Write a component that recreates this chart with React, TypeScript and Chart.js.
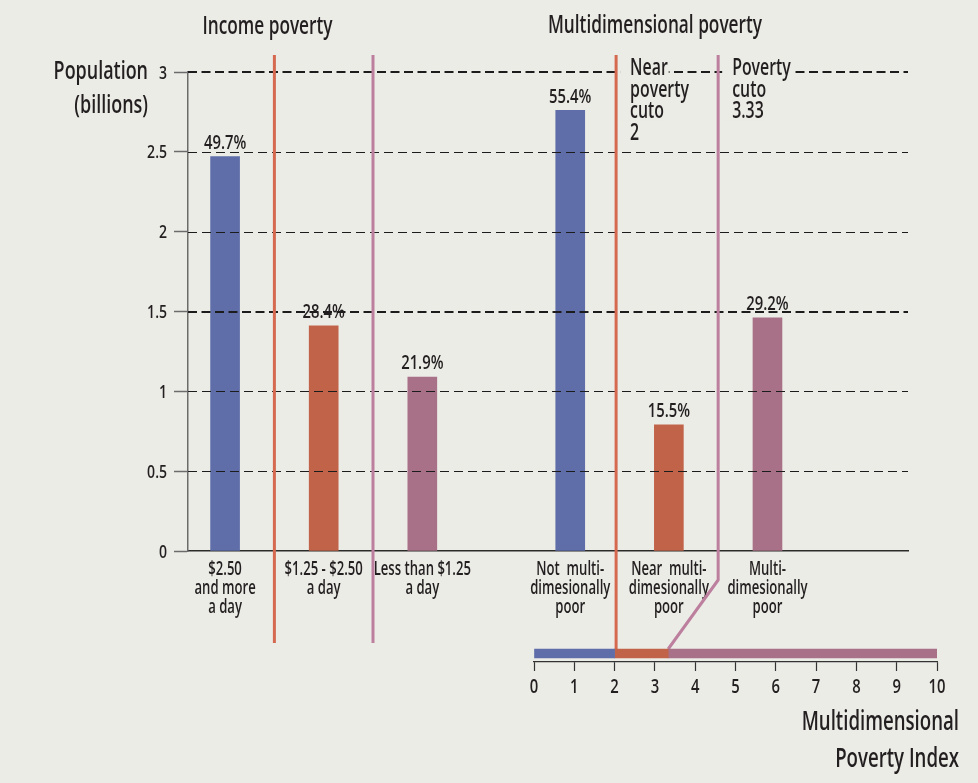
import React, { useEffect, useRef } from 'react';
import { Chart, registerables } from 'chart.js';

Chart.register(...registerables);

// Text is set in a humanist sans, compressed horizontally to a condensed width
const FONT = "'Open Sans', 'Noto Sans', sans-serif";
const WEIGHT = '600';
const SX = 0.69;
const SX_NUM = 0.78;
const INK = '#231f20';
const PAGE_BG = '#ecece7';
const BLUE = '#5f6ea9';
const ORANGE = '#c16349';
const PURPLE = '#a87187';
const ORANGE_RULE = '#d4694f';
const PURPLE_RULE = '#bd7f9e';

// Population groups: income poverty (first three) and multidimensional poverty (last three)
const groupLabels: string[][] = [
  ['$2.50', 'and more', 'a day'],
  ['$1.25 - $2.50', 'a day'],
  ['Less than $1.25', 'a day'],
  ['Not  multi-', 'dimesionally', 'poor'],
  ['Near  multi-', 'dimesionally', 'poor'],
  ['Multi-', 'dimesionally', 'poor'],
];
const groupPositions = [0, 1, 2, 3.5, 4.5, 5.5];
const populationBillions = [2.47, 1.41, 1.09, 2.76, 0.79, 1.46];
const populationShares = ['49.7%', '28.4%', '21.9%', '55.4%', '15.5%', '29.2%'];
const groupColors = [BLUE, ORANGE, PURPLE, BLUE, ORANGE, PURPLE];

const populationTicks = [0, 0.5, 1, 1.5, 2, 2.5, 3];
const emphasisedGridValues = [1.5, 3];

// Income thresholds sit between the income groups
const incomeThresholdPositions = [0.5, 1.5];
const incomeThresholdColors = [ORANGE_RULE, PURPLE_RULE];

// Multidimensional Poverty Index scale
const mpiTicks = [0, 1, 2, 3, 4, 5, 6, 7, 8, 9, 10];
const nearPovertyCutoff = 2;
const povertyCutoff = 3.33;
const mpiBands: [number, number][] = [
  [0, nearPovertyCutoff],
  [nearPovertyCutoff, povertyCutoff],
  [povertyCutoff, 10],
];
const mpiBandColors = [BLUE, ORANGE, PURPLE];
const povertyRulePosition = 5;

const cutoffNotes: string[][] = [
  ['Near', 'poverty', 'cuto', '2'],
  ['Poverty', 'cuto', '3.33'],
];

const MPI_LEFT = 480;
const MPI_TOP = 600;
const MPI_W = 498;
const MPI_H = 183;

function drawText(
  ctx: CanvasRenderingContext2D,
  text: string,
  x: number,
  y: number,
  size: number,
  align: CanvasTextAlign,
  sx: number = SX,
) {
  ctx.save();
  ctx.font = `${WEIGHT} ${size}px ${FONT}`;
  ctx.fillStyle = INK;
  ctx.textAlign = align;
  ctx.textBaseline = 'alphabetic';
  ctx.translate(x, y);
  ctx.scale(sx, 1);
  ctx.fillText(text, 0, 0);
  ctx.restore();
}

function textWidth(ctx: CanvasRenderingContext2D, text: string, size: number, sx: number = SX) {
  ctx.save();
  ctx.font = `${WEIGHT} ${size}px ${FONT}`;
  const w = ctx.measureText(text).width * sx;
  ctx.restore();
  return w;
}

export default function App() {
  const mainRef = useRef<HTMLCanvasElement | null>(null);
  const mpiRef = useRef<HTMLCanvasElement | null>(null);

  useEffect(() => {
    if (!mainRef.current || !mpiRef.current) return;

    const mpiText = {
      id: 'mpiText',
      afterDraw(chart: any) {
        const { ctx, chartArea: area } = chart;
        const xs = chart.scales.x;
        mpiTicks.forEach((v) => {
          drawText(ctx, String(v), xs.getPixelForValue(v), area.bottom + 31, 19, 'center', SX_NUM);
        });
        drawText(ctx, 'Multidimensional', 479, 130, 27, 'right');
        drawText(ctx, 'Poverty Index', 479, 167, 27, 'right');
      },
    };

    const mpiChart = new Chart(mpiRef.current, {
      type: 'bar',
      data: {
        labels: ['MPI'],
        datasets: mpiBands.map((band, i) => ({
          data: [band],
          backgroundColor: mpiBandColors[i],
          borderWidth: 0,
          barThickness: 9,
          grouped: false,
        })),
      },
      options: {
        indexAxis: 'y',
        animation: false,
        responsive: false,
        events: [],
        layout: { padding: { left: 54, right: 41, top: 45, bottom: 0 } },
        plugins: { legend: { display: false }, tooltip: { enabled: false } },
        scales: {
          x: {
            type: 'linear',
            min: 0,
            max: 10,
            position: 'bottom',
            afterBuildTicks: (s: any) => {
              s.ticks = mpiTicks.map((v) => ({ value: v }));
            },
            afterFit: (s: any) => {
              s.height = 121;
            },
            grid: { drawOnChartArea: false, drawTicks: true, tickLength: 9, tickColor: '#333', tickWidth: 1.2 },
            border: { display: true, color: '#333', width: 1.2 },
            ticks: { display: false },
          },
          y: { type: 'category', display: false },
        },
      } as any,
      plugins: [mpiText],
    });

    const overlay = {
      id: 'overlay',
      afterDatasetsDraw(chart: any) {
        const { ctx, chartArea: area, scales } = chart;
        const x = scales.x;
        const y = scales.y;
        ctx.save();

        // dashed gridlines drawn over the bars
        populationTicks.forEach((v) => {
          if (v === 0) return;
          const bold = emphasisedGridValues.includes(v);
          const py = Math.round(y.getPixelForValue(v)) + (bold ? 0 : 0.5);
          ctx.strokeStyle = '#1c1c1c';
          ctx.lineWidth = bold ? 2.2 : 1.1;
          ctx.setLineDash(bold ? [9, 4.5] : [9, 5]);
          ctx.beginPath();
          ctx.moveTo(area.left, py);
          ctx.lineTo(area.right, py);
          ctx.stroke();
        });
        ctx.setLineDash([]);

        // value tick labels
        populationTicks.forEach((v) => {
          drawText(ctx, String(v), area.left - 21, y.getPixelForValue(v) + 6.5, 18, 'right', SX_NUM);
        });

        // group labels under the bars
        groupPositions.forEach((p, i) => {
          groupLabels[i].forEach((line, j) => {
            drawText(ctx, line, x.getPixelForValue(p), area.bottom + 24 + j * 19, 19, 'center');
          });
        });

        // share of population above each bar
        chart.getDatasetMeta(0).data.forEach((bar: any, i: number) => {
          drawText(ctx, populationShares[i], bar.x, bar.y - 7.5, 19, 'center', SX_NUM);
        });

        // threshold rules
        const ruleTop = area.top - 17;
        ctx.lineWidth = 3;
        incomeThresholdPositions.forEach((p, i) => {
          const px = x.getPixelForValue(p);
          ctx.strokeStyle = incomeThresholdColors[i];
          ctx.beginPath();
          ctx.moveTo(px, ruleTop);
          ctx.lineTo(px, area.bottom + 92);
          ctx.stroke();
        });

        const ms = mpiChart.scales.x;
        const band = mpiChart.getDatasetMeta(0).data[0] as any;
        const bandTop = band.y - band.height / 2 + MPI_TOP;
        const nearX = ms.getPixelForValue(nearPovertyCutoff) + MPI_LEFT + 1.5;
        ctx.strokeStyle = ORANGE_RULE;
        ctx.beginPath();
        ctx.moveTo(nearX, ruleTop);
        ctx.lineTo(nearX, bandTop);
        ctx.stroke();

        const povX = x.getPixelForValue(povertyRulePosition);
        const cutX = ms.getPixelForValue(povertyCutoff) + MPI_LEFT;
        ctx.strokeStyle = PURPLE_RULE;
        ctx.lineJoin = 'round';
        ctx.beginPath();
        ctx.moveTo(povX, ruleTop);
        ctx.lineTo(povX, area.bottom + 29);
        ctx.lineTo(cutX, bandTop);
        ctx.stroke();

        // cutoff notes beside the rules
        const noteXs = [nearX + 14, povX + 14];
        cutoffNotes.forEach((lines, k) => {
          lines.forEach((line, j) => {
            const by = 75 + j * 21.7;
            const w = textWidth(ctx, line, 23);
            ctx.fillStyle = PAGE_BG;
            ctx.fillRect(noteXs[k] - 10, by - 12, w + 11, 14);
            drawText(ctx, line, noteXs[k], by, 23, 'left');
          });
        });

        // section titles
        drawText(ctx, 'Income poverty', 267.5, 34, 25, 'center');
        drawText(ctx, 'Multidimensional poverty', 655, 33, 25, 'center');

        // value axis title
        drawText(ctx, 'Population', 148, 79, 26, 'right');
        drawText(ctx, '(billions)', 148, 113, 26, 'right');

        ctx.restore();
      },
    };

    const mainChart = new Chart(mainRef.current, {
      type: 'bar',
      data: {
        datasets: [
          {
            data: groupPositions.map((p, i) => ({ x: p, y: populationBillions[i] })),
            backgroundColor: groupColors,
            borderWidth: 0,
            barThickness: 29,
          },
        ],
      },
      options: {
        animation: false,
        responsive: false,
        events: [],
        layout: { padding: { left: 0, right: 70, top: 72, bottom: 0 } },
        plugins: { legend: { display: false }, tooltip: { enabled: false } },
        scales: {
          x: {
            type: 'linear',
            min: -0.376,
            max: 6.925,
            offset: false,
            afterBuildTicks: (s: any) => {
              s.ticks = groupPositions.map((v) => ({ value: v }));
            },
            afterFit: (s: any) => {
              s.height = 232;
            },
            grid: { display: true, drawOnChartArea: false, drawTicks: false },
            border: { display: true, color: '#2b2b2b', width: 1.5 },
            ticks: { display: false },
          },
          y: {
            type: 'linear',
            min: 0,
            max: 3,
            afterBuildTicks: (s: any) => {
              s.ticks = populationTicks.map((v) => ({ value: v }));
            },
            afterFit: (s: any) => {
              s.width = 188;
            },
            grid: { drawOnChartArea: false, drawTicks: true, tickLength: 14, tickColor: '#6b6b6b', tickWidth: 1.5 },
            border: { display: true, color: '#6b6b6b', width: 1.5 },
            ticks: { display: false },
          },
        },
      } as any,
      plugins: [overlay],
    });

    return () => {
      mainChart.destroy();
      mpiChart.destroy();
    };
  }, []);

  return (
    <div
      style={{
        position: 'fixed',
        left: 0,
        top: 0,
        width: 978,
        height: 783,
        background: PAGE_BG,
        overflow: 'hidden',
      }}
    >
      <canvas
        ref={mainRef}
        width={978}
        height={783}
        style={{ position: 'absolute', left: 0, top: 0, width: 978, height: 783 }}
      />
      <canvas
        ref={mpiRef}
        width={MPI_W}
        height={MPI_H}
        style={{ position: 'absolute', left: MPI_LEFT, top: MPI_TOP, width: MPI_W, height: MPI_H }}
      />
    </div>
  );
}
